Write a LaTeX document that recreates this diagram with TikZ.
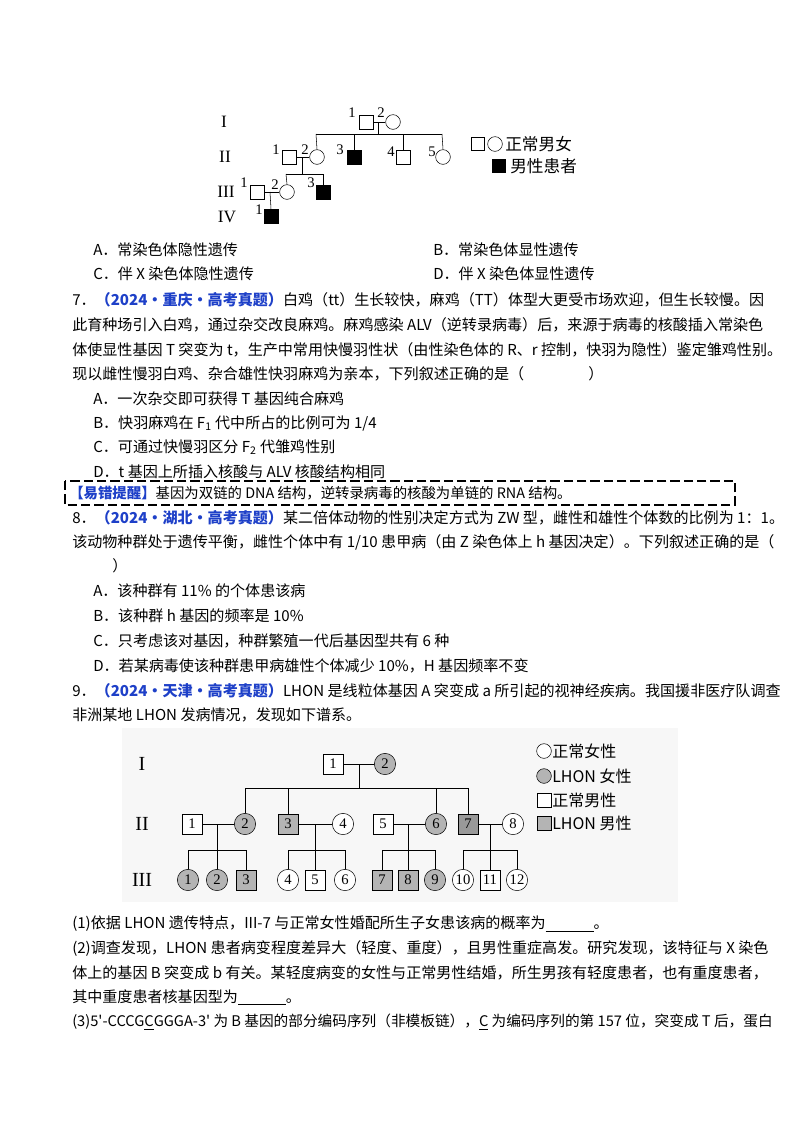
\documentclass[tikz,border=0pt]{standalone}
\usepackage{fontspec}
\setmainfont{Noto Sans CJK SC}
\newfontfamily\pedfont{Liberation Serif}
\definecolor{hdr}{HTML}{1E40C8}
\definecolor{shd}{HTML}{B4B4B4}
\newcommand{\hd}[1]{\textcolor{hdr}{\bfseries #1}}
\newcommand{\blank}{\underline{\hspace{36pt}}}
\begin{document}
\begin{tikzpicture}[x=0.75pt,y=-0.75pt,
  txt/.style={anchor=west,inner sep=0pt,font=\fontsize{11.3pt}{13pt}\selectfont},
  sq/.style={draw,minimum size=10.5pt,inner sep=0pt},
  ci/.style={draw,circle,minimum size=11pt,inner sep=0pt},
  fsq/.style={sq,fill=black},
  lab/.style={inner sep=0pt,font=\pedfont\fontsize{11pt}{11pt}\selectfont},
  bsq/.style={draw,minimum size=15pt,inner sep=0pt,font=\pedfont\fontsize{11pt}{11pt}\selectfont},
  bci/.style={draw,circle,minimum size=16pt,inner sep=0pt,font=\pedfont\fontsize{11pt}{11pt}\selectfont},
  ln/.style={line width=0.6pt}]
\useasboundingbox (0,0) rectangle (800,1132);
% ---------- pedigree 1
\node[lab,font=\pedfont\fontsize{13pt}{13pt}\selectfont] (r1) at (224,122) {I};
\node[lab,font=\pedfont\fontsize{13pt}{13pt}\selectfont] (r2) at (225,157) {II};
\node[lab,font=\pedfont\fontsize{13pt}{13pt}\selectfont] (r3) at (226,192) {III};
\node[lab,font=\pedfont\fontsize{13pt}{13pt}\selectfont] (r4) at (227,217) {IV};
\node[sq] (a1) at (366,122) {};
\node[ci] (a2) at (393,122) {};
\node[lab] at (352,113) {1};
\node[lab] at (381,113) {2};
\draw (a1) -- (a2);
\coordinate (am) at (378,122);
\coordinate (as) at (378,134);
\draw (am) -- (as);
\draw (316,134) -- (442,134);
\node[sq] (b1) at (289,157) {};
\node[ci] (b2) at (317,157) {};
\node[fsq] (b3) at (354,157) {};
\node[sq] (b4) at (403,157) {};
\node[ci] (b5) at (443,157) {};
\node[lab] at (276,150) {1};
\node[lab] at (305,150) {2};
\node[lab] at (340,150) {3};
\node[lab] at (391,152) {4};
\node[lab] at (432,152) {5};
\draw (316,134) -- (b2.north);
\draw (354,134) -- (b3.north);
\draw (403,134) -- (b4.north);
\draw (442,134) -- (b5.north);
\draw (b1) -- (b2);
\draw (302,157) -- (302,174);
\draw (286,174) -- (323,174);
\node[sq] (c1) at (257,192) {};
\node[ci] (c2) at (287,192) {};
\node[fsq] (c3) at (323,192) {};
\node[lab] at (244,183) {1};
\node[lab] at (275,185) {2};
\node[lab] at (311,183) {3};
\draw (286,174) -- (c2.north);
\draw (323,174) -- (c3.north);
\draw (c1) -- (c2);
\node[fsq] (d1) at (271,216) {};
\node[lab] at (259,210) {1};
\draw (270,192) -- (d1.north);
\node[sq,minimum size=10pt] (lg1) at (478,144) {};
\node[ci,minimum size=11pt] (lg2) at (495,144) {};
\node[txt,font=\fontsize{12.5pt}{13pt}\selectfont] (lg3) at (505,144) {正常男女};
\node[fsq,minimum size=10pt] (lg4) at (499,166) {};
\node[txt,font=\fontsize{12.5pt}{13pt}\selectfont] (lg5) at (510,166) {男性患者};
% ---------- Q6 options
\node[txt] (q6a) at (93,250) {A．常染色体隐性遗传};
\node[txt] (q6b) at (433,250) {B．常染色体显性遗传};
\node[txt] (q6c) at (93,274) {C．伴 X 染色体隐性遗传};
\node[txt] (q6d) at (433,274) {D．伴 X 染色体显性遗传};
% ---------- Q7
\node[txt] (q7a) at (72,300) {7．\hd{（2024•重庆•高考真题）}白鸡（tt）生长较快，麻鸡（TT）体型大更受市场欢迎，但生长较慢。因};
\node[txt] (q7b) at (72,325) {此育种场引入白鸡，通过杂交改良麻鸡。麻鸡感染 ALV（逆转录病毒）后，来源于病毒的核酸插入常染色};
\node[txt] (q7c) at (72,350) {体使显性基因 T 突变为 t，生产中常用快慢羽性状（由性染色体的 R、r 控制，快羽为隐性）鉴定雏鸡性别。};
\node[txt] (q7d) at (72,374) {现以雌性慢羽白鸡、杂合雄性快羽麻鸡为亲本，下列叙述正确的是（\hspace{48pt}）};
\node[txt] (q7e) at (93,399) {A．一次杂交即可获得 T 基因纯合麻鸡};
\node[txt] (q7f) at (93,423) {B．快羽麻鸡在 F\textsubscript{1} 代中所占的比例可为 1/4};
\node[txt] (q7g) at (93,447) {C．可通过快慢羽区分 F\textsubscript{2} 代雏鸡性别};
\node[txt] (q7h) at (93,472) {D．t 基因上所插入核酸与 ALV 核酸结构相同};
\draw[line width=1.1pt,dash pattern=on 7pt off 3pt] (65,481) rectangle (735,505);
\node[txt,font=\fontsize{10.8pt}{13pt}\selectfont] (tip) at (69,493) {\hd{【易错提醒】}基因为双链的 DNA 结构，逆转录病毒的核酸为单链的 RNA 结构。};
% ---------- Q8
\node[txt] (q8a) at (72,518) {8．\hd{（2024•湖北•高考真题）}某二倍体动物的性别决定方式为 ZW 型，雌性和雄性个体数的比例为 1：1。};
\node[txt] (q8b) at (72,542) {该动物种群处于遗传平衡，雌性个体中有 1/10 患甲病（由 Z 染色体上 h 基因决定）。下列叙述正确的是（};
\node[txt] (q8c) at (112,566) {）};
\node[txt] (q8d) at (93,591) {A．该种群有 11\% 的个体患该病};
\node[txt] (q8e) at (93,616) {B．该种群 h 基因的频率是 10\%};
\node[txt] (q8f) at (93,641) {C．只考虑该对基因，种群繁殖一代后基因型共有 6 种};
\node[txt] (q8g) at (93,666) {D．若某病毒使该种群患甲病雄性个体减少 10\%，H 基因频率不变};
% ---------- Q9
\node[txt] (q9a) at (72,691) {9．\hd{（2024•天津•高考真题）}LHON 是线粒体基因 A 突变成 a 所引起的视神经疾病。我国援非医疗队调查};
\node[txt] (q9b) at (72,715) {非洲某地 LHON 发病情况，发现如下谱系。};
% ---------- pedigree 2
\fill[black!3] (122,728) rectangle (678,902);
\node[lab,font=\pedfont\fontsize{15pt}{15pt}\selectfont] (g1) at (142,764) {I};
\node[lab,font=\pedfont\fontsize{15pt}{15pt}\selectfont] (g2) at (142,824) {II};
\node[lab,font=\pedfont\fontsize{15pt}{15pt}\selectfont] (g3) at (142,880) {III};
\node[bsq,fill=white] (p1) at (333,764) {1};
\node[bci,fill=shd] (p2) at (385,764) {2};
\draw[ln] (p1) -- (p2);
\draw[ln] (359,764) -- (359,788);
\draw[ln] (245,788) -- (468,788);
\node[bsq,fill=white] (h1) at (192,824) {1};
\node[bci,fill=shd] (h2) at (245,824) {2};
\node[bsq,fill=shd] (h3) at (288,824) {3};
\node[bci,fill=white] (h4) at (343,824) {4};
\node[bsq,fill=white] (h5) at (383,824) {5};
\node[bci,fill=shd] (h6) at (436,824) {6};
\node[bsq,fill=shd!85!black] (h7) at (468,824) {7};
\node[bci,fill=white] (h8) at (513,824) {8};
\draw[ln] (245,788) -- (h2.north);
\draw[ln] (288,788) -- (h3.north);
\draw[ln] (436,788) -- (h6.north);
\draw[ln] (468,788) -- (h7.north);
\draw[ln] (h1) -- (h2); \draw[ln] (h3) -- (h4); \draw[ln] (h5) -- (h6); \draw[ln] (h7) -- (h8);
\draw[ln] (217,824) -- (217,850); \draw[ln] (188,850) -- (246,850);
\draw[ln] (315,824) -- (315,850); \draw[ln] (288,850) -- (345,850);
\draw[ln] (408,824) -- (408,850); \draw[ln] (382,850) -- (435,850);
\draw[ln] (490,824) -- (490,850); \draw[ln] (463,850) -- (517,850);
\node[bci,fill=shd] (k1) at (188,880) {1};
\node[bci,fill=shd] (k2) at (217,880) {2};
\node[bsq,fill=shd] (k3) at (246,880) {3};
\node[bci,fill=white] (k4) at (288,880) {4};
\node[bsq,fill=white] (k5) at (315,880) {5};
\node[bci,fill=white] (k6) at (345,880) {6};
\node[bsq,fill=shd] (k7) at (382,880) {7};
\node[bsq,fill=shd] (k8) at (408,880) {8};
\node[bci,fill=shd] (k9) at (435,880) {9};
\node[bci,fill=white] (k10) at (463,880) {10};
\node[bsq,fill=white] (k11) at (490,880) {11};
\node[bci,fill=white] (k12) at (517,880) {12};
\foreach \a/\b in {188/k1,217/k2,246/k3,288/k4,315/k5,345/k6,382/k7,408/k8,435/k9,463/k10,490/k11,517/k12}
  \draw[ln] (\a,850) -- (\b.north);
\node[ci,fill=white] (m1) at (544,751) {};
\node[txt,font=\fontsize{12pt}{13pt}\selectfont] (m1t) at (552,751) {正常女性};
\node[ci,fill=shd] (m2) at (544,776) {};
\node[txt,font=\fontsize{12pt}{13pt}\selectfont] (m2t) at (552,776) {LHON 女性};
\node[sq,fill=white] (m3) at (544,800) {};
\node[txt,font=\fontsize{12pt}{13pt}\selectfont] (m3t) at (552,800) {正常男性};
\node[sq,fill=shd] (m4) at (544,823) {};
\node[txt,font=\fontsize{12pt}{13pt}\selectfont] (m4t) at (552,823) {LHON 男性};
% ---------- sub-questions
\node[txt] (s1) at (72,924) {(1)依据 LHON 遗传特点，III-7 与正常女性婚配所生子女患该病的概率为\blank。};
\node[txt] (s2) at (72,949) {(2)调查发现，LHON 患者病变程度差异大（轻度、重度），且男性重症高发。研究发现，该特征与 X 染色};
\node[txt] (s3) at (72,973) {体上的基因 B 突变成 b 有关。某轻度病变的女性与正常男性结婚，所生男孩有轻度患者，也有重度患者，};
\node[txt] (s4) at (72,997) {其中重度患者核基因型为\blank。};
\node[txt,font=\fontsize{11pt}{13pt}\selectfont] (s5) at (72,1022) {(3)5\textquotesingle-CCCG\underline{C}GGGA-3\textquotesingle{} 为 B 基因的部分编码序列（非模板链），\underline{C} 为编码序列的第 157 位，突变成 T 后，蛋白};
\end{tikzpicture}
\end{document}
